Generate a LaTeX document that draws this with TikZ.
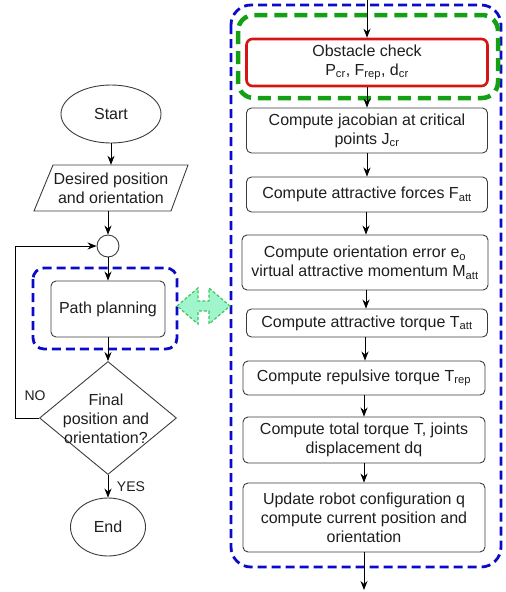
\documentclass[tikz,border=0pt]{standalone}
\usepackage{fontspec}
\setmainfont{Liberation Sans}
\usetikzlibrary{shapes.geometric,arrows.meta}
\definecolor{txtc}{RGB}{30,30,30}
\definecolor{bordc}{RGB}{60,60,60}
\definecolor{bluec}{RGB}{10,10,200}
\definecolor{greenc}{RGB}{20,160,20}
\definecolor{redc}{RGB}{215,20,20}
\definecolor{mint}{RGB}{160,245,205}
\definecolor{mintb}{RGB}{60,200,90}
\begin{document}
\begin{tikzpicture}[x=1pt,y=-1pt,
  every node/.style={font=\fontsize{16}{19}\selectfont, text=txtc, align=center},
  box/.style={draw=bordc, line width=0.9pt, rounded corners=5pt, inner sep=0pt},
  arr/.style={draw=black, line width=0.9pt, -{Stealth[length=9pt,width=7pt]}},
  bluedash/.style={draw=bluec, line width=2.8pt, dash pattern=on 9pt off 5pt},
  greendash/.style={draw=greenc, line width=4.5pt, dash pattern=on 13pt off 7pt, rounded corners=16pt},
  small/.style={font=\fontsize{14}{16}\selectfont}
]
\useasboundingbox (0,0) rectangle (506,592);

% ---------------- left column ----------------
\node[draw=bordc, line width=0.9pt, ellipse, minimum width=100pt, minimum height=58pt, inner sep=0pt] (start) at (111,114) {Start};

\node[minimum width=135pt, minimum height=46pt, inner sep=0pt] (desired) at (111,188) {Desired position\\and orientation};
\draw[draw=bordc, line width=0.9pt] (53,165) -- (188,165) -- (171,211) -- (34,211) -- cycle;

\node[draw=bordc, line width=0.9pt, circle, minimum size=22pt, inner sep=0pt] (circ) at (108,246) {};

\draw[bluedash, rounded corners=11pt] (33,268) rectangle (177,349);
\node[box, minimum width=114pt, minimum height=56pt] (pp) at (108,309) {Path planning};

\node[draw=bordc, line width=0.9pt, diamond, minimum width=137pt, minimum height=113pt, inner sep=0pt] (dec) at (108,418) {};
\node (dectext) at (106,419) {Final\\position and\\orientation?};

\node[draw=bordc, line width=0.9pt, ellipse, minimum width=75pt, minimum height=58pt, inner sep=0pt] (end) at (108,527) {End};

\node[small] (no) at (35,396) {NO};
\node[small] (yes) at (131,487) {YES};

\draw[arr] (start.south) -- (start.south |- desired.north);
\draw[arr] (desired.south -| circ.north) -- (circ.north);
\draw[arr] (circ.south) -- (pp.north);
\draw[arr] (pp.south) -- (dec.north);
\draw[arr] (dec.south) -- (end.north);
\draw[arr] (dec.west) -- ++(-24,0) |- (circ.west);

% ---------------- right column ----------------
\draw[bluedash, rounded corners=20pt] (231,5) rectangle (501,567);
\draw[greendash] (238,15) rectangle (498,98);

\node[box, draw=redc, line width=2.6pt, rounded corners=6pt, minimum width=241pt, minimum height=47pt] (obs) at (367,62.5) {Obstacle check\\P\textsubscript{cr}, F\textsubscript{rep}, d\textsubscript{cr}};
\node[box, minimum width=241pt, minimum height=45pt] (jac) at (367,130.5) {Compute jacobian at critical\\points J\textsubscript{cr}};
\node[box, minimum width=241pt, minimum height=35pt] (fatt) at (367,194.5) {Compute attractive forces F\textsubscript{att}};
\node[box, minimum width=246pt, minimum height=55pt] (ori) at (365,262.5) {Compute orientation error e\textsubscript{o}\\virtual attractive momentum M\textsubscript{att}};
\node[box, minimum width=241pt, minimum height=28pt] (tatt) at (367,323) {Compute attractive torque T\textsubscript{att}};
\node[box, minimum width=242pt, minimum height=34pt] (trep) at (364,378) {Compute repulsive torque T\textsubscript{rep}};
\node[box, minimum width=242pt, minimum height=46pt] (tot) at (364,440) {Compute total torque T, joints\\displacement dq};
\node[box, minimum width=242pt, minimum height=69pt] (upd) at (364,517.5) {Update robot configuration q\\compute current position and\\orientation};

\coordinate (topin) at (367,0);
\coordinate (botout) at (365,590);

\draw[arr] (topin) -- (obs.north);
\draw[arr] (obs.south) -- (obs.south |- jac.north);
\draw[arr] (jac.south) -- (jac.south |- fatt.north);
\draw[arr] (fatt.south -| 366,0) -- (366,0 |- ori.north);
\draw[arr] (ori.south -| 366,0) -- (366,0 |- tatt.north);
\draw[arr] (tatt.south -| 365,0) -- (365,0 |- trep.north);
\draw[arr] (trep.south) -- (tot.north);
\draw[arr] (tot.south) -- (upd.north);
\draw[arr] (upd.south) -- (upd.south |- botout);

% ---------------- link double arrow ----------------
\coordinate (lk) at (203.5,306);
\filldraw[fill=mint, draw=mintb, line width=1.2pt, dash pattern=on 3pt off 2pt]
  (177,306) -- (198,288) -- (198,301) -- (209,301) -- (209,288) -- (230,306)
  -- (209,324) -- (209,311) -- (198,311) -- (198,324) -- cycle;
\end{tikzpicture}
\end{document}
